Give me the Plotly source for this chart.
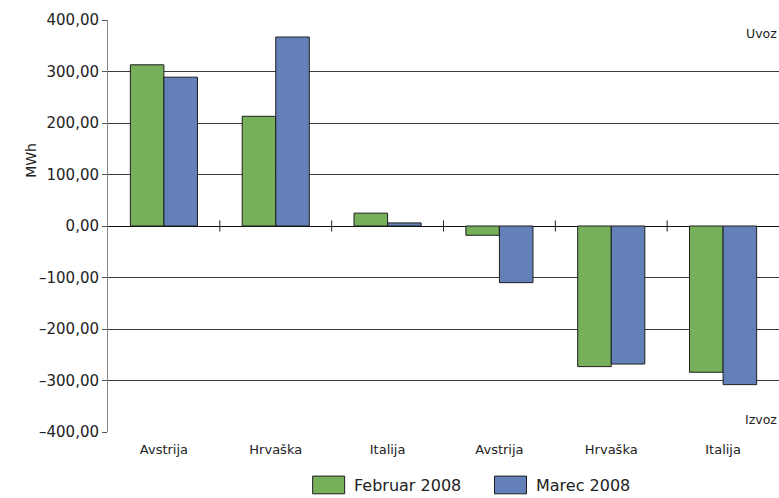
import plotly.graph_objects as go

# Monthly cross-border electricity exchange (MWh): imports (positive) and exports (negative)
categories = ["Avstrija", "Hrvaška", "Italija", "Avstrija", "Hrvaška", "Italija"]
februar_2008 = [313, 213, 25, -18, -273, -284]
marec_2008 = [289, 367, 6, -110, -268, -308]
y_ticks = [400, 300, 200, 100, 0, -100, -200, -300, -400]
y_tick_labels = ["400,00", "300,00", "200,00", "100,00", "0,00",
                 "–100,00", "–200,00", "–300,00", "–400,00"]

GREEN = "#77b05b"
BLUE = "#6381b8"
FONT = "DejaVu Sans"

x = list(range(len(categories)))
fig = go.Figure()
fig.add_bar(x=x, y=februar_2008, name="Februar 2008", marker_color=GREEN,
            marker_line=dict(color="#1e1e1e", width=1), showlegend=False)
fig.add_bar(x=x, y=marec_2008, name="Marec 2008", marker_color=BLUE,
            marker_line=dict(color="#1e1e1e", width=1), showlegend=False)

# small tick marks on the zero line between category groups
sep = [i + 0.5 for i in x[:-1]]
fig.add_scatter(x=sep, y=[0] * len(sep), mode="markers", hoverinfo="skip",
                marker=dict(symbol="line-ns", size=8, line=dict(color="#222", width=1)),
                showlegend=False)

fig.update_layout(
    width=779, height=498,
    margin=dict(l=108, r=0, t=20, b=66),
    paper_bgcolor="white", plot_bgcolor="white",
    barmode="group", bargap=0.4, bargroupgap=0,
    font=dict(family=FONT, color="#222"),
)
fig.update_xaxes(
    range=[-0.5, len(categories) - 0.5],
    tickvals=x, ticktext=categories, ticks="", ticklabelstandoff=8,
    tickfont=dict(size=13, family=FONT, color="#222"),
    showgrid=False, zeroline=False, showline=False,
)
fig.update_yaxes(
    range=[-400, 400], tickvals=y_ticks, ticktext=y_tick_labels,
    tickfont=dict(size=15, family=FONT, color="#222"),
    showgrid=True, gridcolor="#3a3a3a", gridwidth=1,
    zeroline=True, zerolinecolor="#111", zerolinewidth=1,
    showline=True, linecolor="#888", linewidth=1,
    ticks="outside", ticklen=5, tickcolor="#555",
)

annotations = [
    dict(text="MWh", x=-0.13, y=0.66, xref="paper", yref="paper", textangle=-90,
         showarrow=False, font=dict(size=14, family=FONT, color="#222")),
    dict(text="Uvoz", x=1.0, y=0.99, xref="paper", yref="paper", xanchor="right",
         yanchor="top", showarrow=False, font=dict(size=12.5, family=FONT, color="#222")),
    dict(text="Izvoz", x=1.0, y=0.008, xref="paper", yref="paper", xanchor="right",
         yanchor="bottom", showarrow=False, font=dict(size=12.5, family=FONT, color="#222")),
]

# legend drawn as swatches with labels beneath the plot
legend_items = [("Februar 2008", GREEN, 0.305), ("Marec 2008", BLUE, 0.576)]
shapes = []
for label, color, px in legend_items:
    w = 32 / 671
    shapes.append(dict(type="rect", xref="paper", yref="paper",
                       x0=px, x1=px + w, y0=-0.150, y1=-0.107,
                       fillcolor=color, line=dict(color="#1e1e1e", width=1)))
    annotations.append(dict(text=label, x=px + w + 0.011, y=-0.129, xref="paper", yref="paper",
                            xanchor="left", yanchor="middle", showarrow=False,
                            font=dict(size=16, family=FONT, color="#222")))

fig.update_layout(annotations=annotations, shapes=shapes)
fig.write_html("out.html")
